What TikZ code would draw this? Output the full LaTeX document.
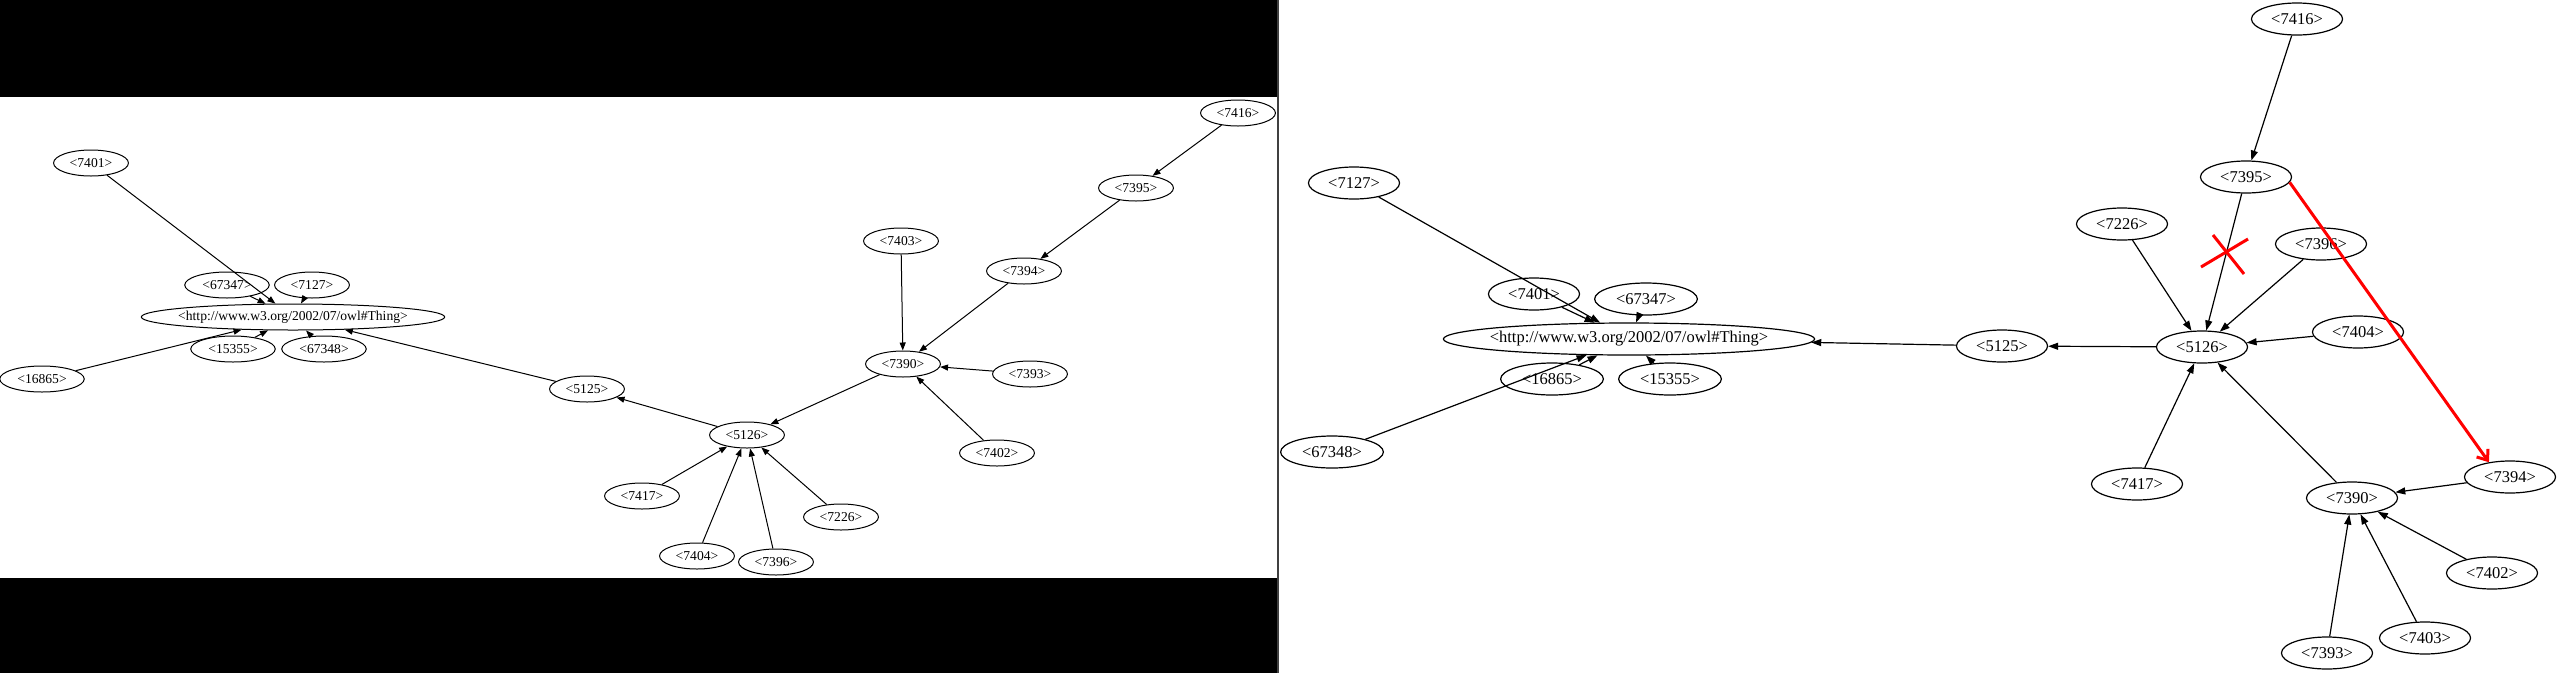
\documentclass[tikz,border=0pt]{standalone}
\usepackage{fontspec}
\setmainfont{Liberation Serif}
\usetikzlibrary{shapes.geometric,arrows.meta}
\tikzset{
	lnode/.style={draw, ellipse, inner xsep=5.2pt, inner ysep=0pt, minimum height=26pt,
		line width=1pt, font=\fontsize{13.6}{14}\selectfont},
	lthing/.style={lnode, inner xsep=-7.5pt},
	rnode/.style={draw, ellipse, inner xsep=6.4pt, inner ysep=0pt, minimum height=32pt,
		line width=1.2pt, font=\fontsize{16.5}{18}\selectfont},
	rthing/.style={rnode, inner xsep=-8pt},
	ledge/.style={-{Triangle[length=8pt,width=6pt]}, line width=1pt},
	redge/.style={-{Triangle[length=10pt,width=7pt]}, line width=1.2pt},
	fixline/.style={red, line width=3pt}
}
\begin{document}
\begin{tikzpicture}[x=1pt, y=-1pt]
			\useasboundingbox (0,0) rectangle (2557,673);
			\fill[white] (0,0) rectangle (2557,673);
			% left panel
			\fill[black] (0,0) rectangle (1278,97);
			\fill[black] (0,578) rectangle (1278,673);
			\draw[black!75, line width=1.5pt] (1278,0) -- (1278,673);
			\node[lthing] (lthing) at (293,317) {<http://www.w3.org/2002/07/owl\#Thing>};
			\node[lnode] (l7401) at (91,163) {<7401>};
			\node[lnode] (l67347) at (227,285) {<67347>};
			\node[lnode] (l7127) at (312,285) {<7127>};
			\node[lnode] (l15355) at (233,349) {<15355>};
			\node[lnode] (l67348) at (324,349) {<67348>};
			\node[lnode] (l16865) at (42,379) {<16865>};
			\node[lnode] (l5125) at (587,389) {<5125>};
			\node[lnode] (l5126) at (747,435) {<5126>};
			\node[lnode] (l7390) at (903,364) {<7390>};
			\node[lnode] (l7393) at (1030,374) {<7393>};
			\node[lnode] (l7403) at (901,241) {<7403>};
			\node[lnode] (l7394) at (1024,271) {<7394>};
			\node[lnode] (l7395) at (1136,188) {<7395>};
			\node[lnode] (l7416) at (1238,113) {<7416>};
			\node[lnode] (l7402) at (997,453) {<7402>};
			\node[lnode] (l7417) at (642,496) {<7417>};
			\node[lnode] (l7226) at (841,517) {<7226>};
			\node[lnode] (l7404) at (697,556) {<7404>};
			\node[lnode] (l7396) at (776,562) {<7396>};
			\draw[ledge] (l7401) -- (lthing);
			\draw[ledge] (l67347) -- (lthing);
			\draw[ledge] (l7127) -- (lthing);
			\draw[ledge] (l15355) -- (lthing);
			\draw[ledge] (l67348) -- (lthing);
			\draw[ledge] (l16865) -- (lthing);
			\draw[ledge] (l5125) -- (lthing);
			\draw[ledge] (l5126) -- (l5125);
			\draw[ledge] (l7390) -- (l5126);
			\draw[ledge] (l7416) -- (l7395);
			\draw[ledge] (l7395) -- (l7394);
			\draw[ledge] (l7394) -- (l7390);
			\draw[ledge] (l7403) -- (l7390);
			\draw[ledge] (l7393) -- (l7390);
			\draw[ledge] (l7402) -- (l7390);
			\draw[ledge] (l7417) -- (l5126);
			\draw[ledge] (l7404) -- (l5126);
			\draw[ledge] (l7396) -- (l5126);
			\draw[ledge] (l7226) -- (l5126);
			% right panel
			\node[rthing] (rthing) at (1629,339) {<http://www.w3.org/2002/07/owl\#Thing>};
			\node[rnode] (r7127) at (1354,183) {<7127>};
			\node[rnode] (r7401) at (1534,294) {<7401>};
			\node[rnode] (r67347) at (1646,299) {<67347>};
			\node[rnode] (r16865) at (1552,379) {<16865>};
			\node[rnode] (r15355) at (1670,379) {<15355>};
			\node[rnode] (r67348) at (1332,452) {<67348>};
			\node[rnode] (r5125) at (2002,346) {<5125>};
			\node[rnode] (r5126) at (2202,347) {<5126>};
			\node[rnode] (r7416) at (2297,19) {<7416>};
			\node[rnode] (r7395) at (2246,177) {<7395>};
			\node[rnode] (r7226) at (2122,224) {<7226>};
			\node[rnode] (r7396) at (2321,244) {<7396>};
			\node[rnode] (r7404) at (2358,332) {<7404>};
			\node[rnode] (r7417) at (2137,484) {<7417>};
			\node[rnode] (r7390) at (2352,498) {<7390>};
			\node[rnode] (r7394) at (2510,477) {<7394>};
			\node[rnode] (r7402) at (2492,573) {<7402>};
			\node[rnode] (r7393) at (2327,653) {<7393>};
			\node[rnode] (r7403) at (2425,638) {<7403>};
			\draw[redge] (r7127) -- (rthing);
			\draw[redge] (r7401) -- (rthing);
			\draw[redge] (r67347) -- (rthing);
			\draw[redge] (r16865) -- (rthing);
			\draw[redge] (r15355) -- (rthing);
			\draw[redge] (r67348) -- (rthing);
			\draw[redge] (r5125) -- (rthing);
			\draw[redge] (r5126) -- (r5125);
			\draw[redge] (r7416) -- (r7395);
			\draw[redge] (r7395) -- (r5126);
			\draw[redge] (r7226) -- (r5126);
			\draw[redge] (r7396) -- (r5126);
			\draw[redge] (r7404) -- (r5126);
			\draw[redge] (r7417) -- (r5126);
			\draw[redge] (r7390) -- (r5126);
			\draw[redge] (r7394) -- (r7390);
			\draw[redge] (r7402) -- (r7390);
			\draw[redge] (r7403) -- (r7390);
			\draw[redge] (r7393) -- (r7390);
			% removed link and new link
			\draw[fixline] (2201,267) -- (2248,239);
			\draw[fixline] (2213,235) -- (2244,274);
			\draw[fixline, -{Straight Barb[length=9pt,width=14pt]}] (r7395.-7) -- (r7394.145);
\end{tikzpicture}
\end{document}
